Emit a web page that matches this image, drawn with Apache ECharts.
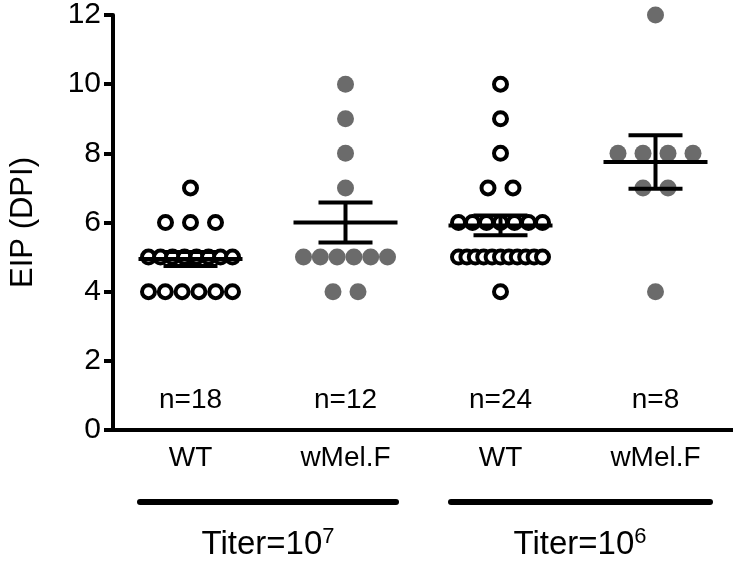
<!DOCTYPE html>
<html><head><meta charset="utf-8">
<script src="https://cdn.jsdelivr.net/npm/echarts@6/dist/echarts.min.js"></script>
<style>html,body{margin:0;padding:0;background:#fff}#c{width:733px;height:565px}</style>
</head><body><div id="c"></div>
<script>
// ---- data ----
const categories = ['WT', 'wMel.F', 'WT', 'wMel.F'];
const wt7   = [7, 6, 6, 6, 5, 5, 5, 5, 5, 5, 5, 5, 4, 4, 4, 4, 4, 4];
const wmel7 = [10, 9, 8, 7, 5, 5, 5, 5, 5, 5, 4, 4];
const wt6   = [10, 9, 8, 7, 7, 6, 6, 6, 6, 6, 6, 6, 5, 5, 5, 5, 5, 5, 5, 5, 5, 5, 5, 4];
const wmel6 = [12, 8, 8, 8, 8, 7, 7, 4];
const groups = [wt7, wmel7, wt6, wmel6];
const isFilled = [false, true, false, true];
const titerExponents = ['7', '6'];
const yMin = 0, yMax = 12, yStep = 2;

// ---- helpers ----
const FONT = 'Liberation Sans, Arial, sans-serif';
function stats(a) {
  const n = a.length, m = a.reduce((s, v) => s + v, 0) / n;
  const sd = Math.sqrt(a.reduce((s, v) => s + (v - m) * (v - m), 0) / (n - 1));
  return { n, mean: m, sem: sd / Math.sqrt(n) };
}
// beeswarm-like horizontal spread of equal values
function swarm(a, gi) {
  const counts = {}; a.forEach(v => counts[v] = (counts[v] || 0) + 1);
  const seen = {};
  return a.map(v => {
    const c = counts[v], j = (seen[v] = (seen[v] || 0) + 1) - 1;
    const s = c > 1 ? Math.min(25, 84 / (c - 1)) : 0;
    return { value: [gi, v], symbolOffset: [(j - (c - 1) / 2) * s, 0] };
  });
}

const scatterSeries = groups.map((g, gi) => ({
  type: 'scatter',
  data: swarm(g, gi),
  symbol: 'circle',
  symbolSize: isFilled[gi] ? 17 : 13,
  itemStyle: isFilled[gi]
    ? { color: '#6b6b6b', opacity: 1 }
    : { color: '#ffffff', borderColor: '#000000', borderWidth: 4, opacity: 1 },
  z: 2,
  silent: true
}));

const statData = groups.map((g, gi) => {
  const s = stats(g);
  return [gi, s.mean, s.mean - s.sem, s.mean + s.sem, s.n];
});

const option = {
  animation: false,
  backgroundColor: '#fff',
  grid: { left: 110, right: 0, top: 15, bottom: 135 },
  xAxis: {
    type: 'category',
    data: categories,
    axisLine: { lineStyle: { color: '#000', width: 4 } },
    axisTick: { alignWithLabel: true, length: 11, lineStyle: { color: '#000', width: 4 } },
    axisLabel: { color: '#000', fontSize: 28, fontFamily: FONT, margin: 14 },
    splitLine: { show: false }
  },
  yAxis: {
    type: 'value', min: yMin, max: yMax, interval: yStep,
    name: 'EIP (DPI)', nameLocation: 'middle', nameGap: 74, nameRotate: 90,
    nameTextStyle: { color: '#000', fontSize: 31, fontFamily: FONT },
    axisLine: { show: true, lineStyle: { color: '#000', width: 4 } },
    axisTick: { show: true, length: 9, lineStyle: { color: '#000', width: 4 } },
    axisLabel: { color: '#000', fontSize: 30, fontFamily: FONT, margin: 12 },
    splitLine: { show: false }
  },
  graphic: [
    { type: 'line', shape: { x1: 140, y1: 502, x2: 396, y2: 502 }, style: { stroke: '#000', lineWidth: 6, lineCap: 'round' } },
    { type: 'line', shape: { x1: 451, y1: 502, x2: 710, y2: 502 }, style: { stroke: '#000', lineWidth: 6, lineCap: 'round' } },
    { type: 'text', x: 268, y: 545, style: { text: '{a|Titer=10}{s|' + titerExponents[0] + '}', align: 'center', verticalAlign: 'middle',
      rich: { a: { fontSize: 33, fontFamily: FONT, color: '#000' }, s: { fontSize: 22, fontFamily: FONT, color: '#000', verticalAlign: 'top', padding: [0, 0, 16, 0] } } } },
    { type: 'text', x: 580, y: 545, style: { text: '{a|Titer=10}{s|' + titerExponents[1] + '}', align: 'center', verticalAlign: 'middle',
      rich: { a: { fontSize: 33, fontFamily: FONT, color: '#000' }, s: { fontSize: 22, fontFamily: FONT, color: '#000', verticalAlign: 'top', padding: [0, 0, 16, 0] } } } }
  ],
  series: [
    ...scatterSeries,
    {
      type: 'custom', z: 5, silent: true,
      data: statData,
      renderItem(params, api) {
        const c = api.coord([api.value(0), api.value(1)]);
        const lo = api.coord([api.value(0), api.value(2)]);
        const hi = api.coord([api.value(0), api.value(3)]);
        const st = { stroke: '#000', lineWidth: 4 };
        return { type: 'group', children: [
          { type: 'line', shape: { x1: c[0] - 52, y1: c[1], x2: c[0] + 52, y2: c[1] }, style: st },
          { type: 'line', shape: { x1: c[0], y1: lo[1], x2: c[0], y2: hi[1] }, style: st },
          { type: 'line', shape: { x1: c[0] - 27, y1: lo[1], x2: c[0] + 27, y2: lo[1] }, style: st },
          { type: 'line', shape: { x1: c[0] - 27, y1: hi[1], x2: c[0] + 27, y2: hi[1] }, style: st }
        ]};
      }
    },
    {
      type: 'custom', z: 5, silent: true,
      data: statData,
      renderItem(params, api) {
        const p = api.coord([api.value(0), 0.85]);
        return { type: 'text', x: p[0], y: p[1], style: { text: 'n=' + api.value(4), fontSize: 28, fontFamily: FONT, fill: '#000', align: 'center', verticalAlign: 'middle' } };
      }
    }
  ]
};
const chart = echarts.init(document.getElementById('c'), null, { renderer: 'canvas' });
chart.setOption(option);
</script>
</body></html>
